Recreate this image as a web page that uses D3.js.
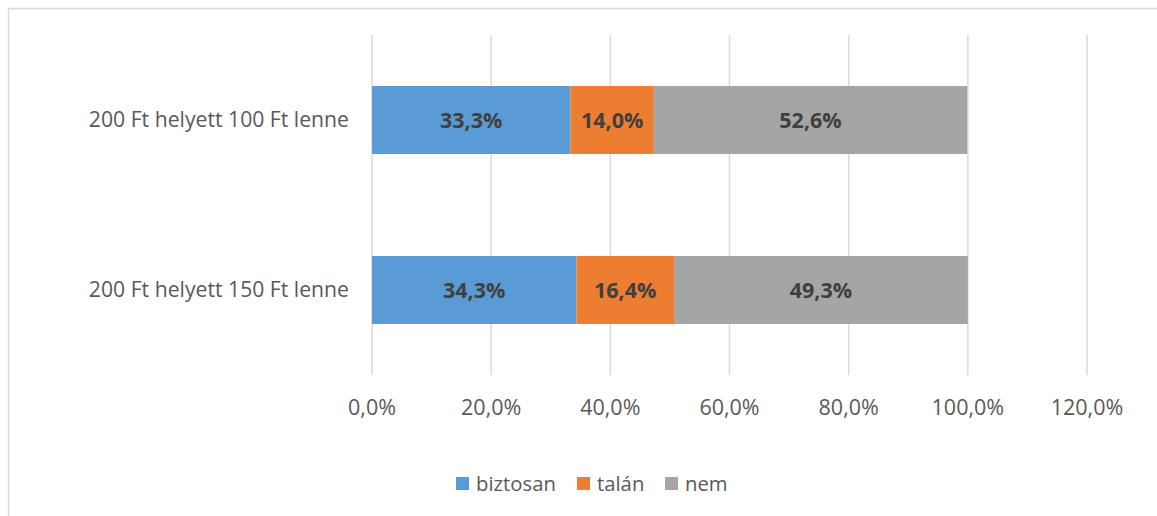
<!DOCTYPE html>
<meta charset="utf-8">
<script src="https://d3js.org/d3.v7.min.js"></script>
<style>
  body { margin: 0; background: #fff; }
  text { font-family: "Open Sans", sans-serif; }
</style>
<div id="chart"></div>
<script>
    // data
    var categories = ["200 Ft helyett 100 Ft lenne", "200 Ft helyett 150 Ft lenne"];
    var seriesNames = ["biztosan", "talán", "nem"];
    var biztosan = [33.3, 34.3];
    var talan = [14.0, 16.4];
    var nem = [52.6, 49.3];
    var ticks = [0, 20, 40, 60, 80, 100, 120];
    var colors = ["#5b9bd5", "#ed7d31", "#a5a5a5"];

    var W = 1157, H = 516;
    var svg = d3.select("#chart").append("svg")
        .attr("width", W).attr("height", H);

    // chart border
    svg.append("rect")
        .attr("x", 8.5).attr("y", 8.5)
        .attr("width", W).attr("height", H)
        .attr("fill", "none").attr("stroke", "#d9d9d9").attr("stroke-width", 1.5);

    var x = d3.scaleLinear().domain([0, 120]).range([372, 1087]);
    var y = d3.scaleBand().domain(categories).range([35, 375]).paddingInner(0.6).paddingOuter(0.3);

    // gridlines
    svg.append("g").selectAll("line")
        .data(ticks)
        .join("line")
        .attr("x1", d => x(d)).attr("x2", d => x(d))
        .attr("y1", 35).attr("y2", 375)
        .attr("stroke", "#d9d9d9").attr("stroke-width", 1.5);

    // tick labels
    svg.append("g").selectAll("text")
        .data(ticks)
        .join("text")
        .attr("x", d => x(d)).attr("y", 407)
        .attr("dy", "0.35em")
        .attr("text-anchor", "middle")
        .attr("fill", "#595959").attr("font-size", 21.5)
        .text(d => d.toFixed(1).replace(".", ",") + "%");

    // category labels
    svg.append("g").selectAll("text")
        .data(categories)
        .join("text")
        .attr("x", 349).attr("y", d => y(d) + y.bandwidth() / 2)
        .attr("dy", "0.35em")
        .attr("text-anchor", "end")
        .attr("fill", "#595959").attr("font-size", 21.2)
        .text(d => d);

    // stacked data
    var rows = categories.map((c, i) => ({cat: c, biztosan: biztosan[i], "talán": talan[i], nem: nem[i]}));
    var stack = d3.stack().keys(seriesNames)(rows);

    var layer = svg.append("g").selectAll("g")
        .data(stack)
        .join("g")
        .attr("fill", (d, i) => colors[i]);

    layer.selectAll("rect")
        .data(d => d)
        .join("rect")
        .attr("x", d => x(d[0]))
        .attr("y", d => y(d.data.cat))
        .attr("width", d => x(d[1]) - x(d[0]))
        .attr("height", y.bandwidth());

    layer.selectAll("text")
        .data(d => d)
        .join("text")
        .attr("x", d => (x(d[0]) + x(d[1])) / 2)
        .attr("y", d => y(d.data.cat) + y.bandwidth() / 2)
        .attr("dy", "0.35em")
        .attr("text-anchor", "middle")
        .attr("fill", "#404040").attr("font-size", 21.5).attr("font-weight", "bold")
        .text(d => (d[1] - d[0]).toFixed(1).replace(".", ",") + "%");

    // legend
    var legendX = [456, 577, 665];
    var legend = svg.append("g").selectAll("g")
        .data(seriesNames)
        .join("g")
        .attr("transform", (d, i) => "translate(" + legendX[i] + ",477)");
    legend.append("rect")
        .attr("width", 13).attr("height", 13)
        .attr("fill", (d, i) => colors[i]);
    legend.append("text")
        .attr("x", 20).attr("y", 7)
        .attr("dy", "0.35em")
        .attr("fill", "#595959").attr("font-size", 20.3)
        .text(d => d);
</script>
